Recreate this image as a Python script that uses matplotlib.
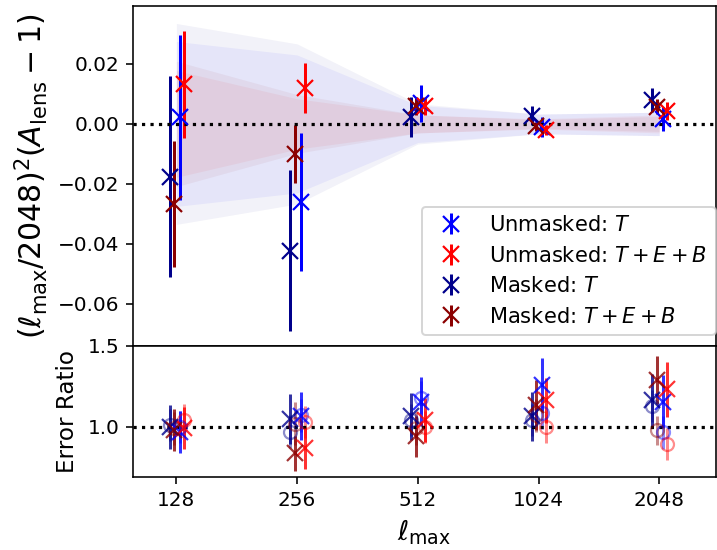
import matplotlib
matplotlib.use("Agg")
import matplotlib.pyplot as plt
from matplotlib.ticker import FixedLocator, NullLocator

ells = [128, 256, 512, 1024, 2048]
tick_labels = ["128", "256", "512", "1024", "2048"]

labels = [r"Unmasked: $T$", r"Unmasked: $T+E+B$", r"Masked: $T$", r"Masked: $T+E+B$"]
colors = ["blue", "red", "darkblue", "darkred"]
shifts = [1.02, 1.045, 0.962, 0.988]

# top panel: (lmax/2048)^2 (A_lens - 1)
alens_unm_t = [0.0022, -0.0261, 0.0069, -0.0009, 0.0017]
alens_unm_t_err = [0.0275, 0.0230, 0.0062, 0.0033, 0.0039]
alens_unm_teb = [0.0132, 0.0119, 0.0060, -0.0020, 0.0043]
alens_unm_teb_err = [0.0178, 0.0084, 0.0030, 0.0017, 0.0030]
alens_msk_t = [-0.0176, -0.0422, 0.0024, 0.0028, 0.0080]
alens_msk_t_err = [0.0335, 0.0267, 0.0067, 0.0033, 0.0039]
alens_msk_teb = [-0.0267, -0.0100, 0.0060, -0.0007, 0.0058]
alens_msk_teb_err = [0.0209, 0.0098, 0.0030, 0.0015, 0.0025]

# bottom panel: error ratio (crosses) and second estimate (circles)
ratio_unm_t = [0.97, 1.066, 1.156, 1.26, 1.156]
ratio_unm_t_err = [0.13, 0.146, 0.15, 0.163, 0.165]
ratio_unm_teb = [0.99, 0.87, 1.043, 1.163, 1.233]
ratio_unm_teb_err = [0.13, 0.13, 0.135, 0.14, 0.17]
ratio_msk_t = [1.0, 1.05, 1.064, 1.064, 1.167]
ratio_msk_t_err = [0.135, 0.155, 0.144, 0.15, 0.16]
ratio_msk_teb = [0.98, 0.835, 0.94, 1.136, 1.29]
ratio_msk_teb_err = [0.13, 0.11, 0.125, 0.155, 0.15]

circ_unm_t = [1.0, 1.07, 1.18, 1.085, 0.965]
circ_unm_t_err = [0.1, 0.1, 0.1, 0.1, 0.1]
circ_unm_teb = [1.04, 1.03, 1.0, 1.0, 0.895]
circ_unm_teb_err = [0.1, 0.1, 0.1, 0.1, 0.1]
circ_msk_t = [1.01, 0.97, 1.04, 1.04, 1.13]
circ_msk_t_err = [0.1, 0.1, 0.1, 0.1, 0.1]
circ_msk_teb = [0.99, 1.02, 0.99, 1.07, 0.977]
circ_msk_teb_err = [0.1, 0.13, 0.1, 0.1, 0.09]

alens = [alens_unm_t, alens_unm_teb, alens_msk_t, alens_msk_teb]
alens_err = [alens_unm_t_err, alens_unm_teb_err, alens_msk_t_err, alens_msk_teb_err]
ratios = [ratio_unm_t, ratio_unm_teb, ratio_msk_t, ratio_msk_teb]
ratios_err = [ratio_unm_t_err, ratio_unm_teb_err, ratio_msk_t_err, ratio_msk_teb_err]
circs = [circ_unm_t, circ_unm_teb, circ_msk_t, circ_msk_teb]
circs_err = [circ_unm_t_err, circ_unm_teb_err, circ_msk_t_err, circ_msk_teb_err]

plt.rcParams["font.size"] = 10

fig = plt.figure(figsize=(717 / 144, 550 / 144), dpi=144)
gs = fig.add_gridspec(2, 1, height_ratios=[340, 131], hspace=0,
                      left=0.186, right=0.998, top=0.989, bottom=0.133)
ax = fig.add_subplot(gs[0])
ax2 = fig.add_subplot(gs[1], sharex=ax)

for i in range(4):
    ax.fill_between(ells, [-e for e in alens_err[i]], alens_err[i],
                    color=colors[i], alpha=0.05, lw=0)

for i in range(4):
    xs = [l * shifts[i] for l in ells]
    ax.errorbar(xs, alens[i], yerr=alens_err[i], fmt="x", color=colors[i],
                ms=8, mew=1.1, elinewidth=1.5, label=labels[i])

ax.axhline(0, color="black", ls=":", lw=1.6)
ax.set_xscale("log")
ax.set_xlim(100, 2830)
ax.set_ylim(-0.074, 0.0393)
ax.set_yticks([-0.06, -0.04, -0.02, 0.0, 0.02])
ax.set_ylabel(r"$(\ell_{\rm max}/2048)^2(A_{\rm lens}-1)$", fontsize=15)
ax.tick_params(axis="x", which="both", bottom=False, labelbottom=False)
ax.legend(loc="lower right", fontsize=10.5, borderaxespad=0,
          bbox_to_anchor=(1.0, 0.032))

for i in range(4):
    xs = [l * shifts[i] for l in ells]
    ax2.errorbar(xs, circs[i], yerr=circs_err[i], fmt="o", mfc="none",
                 color=colors[i], alpha=0.45, ms=6.5, mew=1.1, elinewidth=1.5)
for i in range(4):
    xs = [l * shifts[i] for l in ells]
    ax2.errorbar(xs, ratios[i], yerr=ratios_err[i], fmt="x", color=colors[i],
                 alpha=0.8, ms=8, mew=1.1, elinewidth=1.5)

ax2.axhline(1, color="black", ls=":", lw=1.6)
ax2.set_ylim(0.69, 1.5)
ax2.set_yticks([1.0, 1.5])
ax2.xaxis.set_major_locator(FixedLocator(ells))
ax2.xaxis.set_minor_locator(NullLocator())
ax2.set_xticklabels(tick_labels)
ax2.set_xlabel(r"$\ell_{\rm max}$", fontsize=13.5)
ax2.set_ylabel("Error Ratio", fontsize=11.5)

fig.savefig("out.png", dpi=144)
